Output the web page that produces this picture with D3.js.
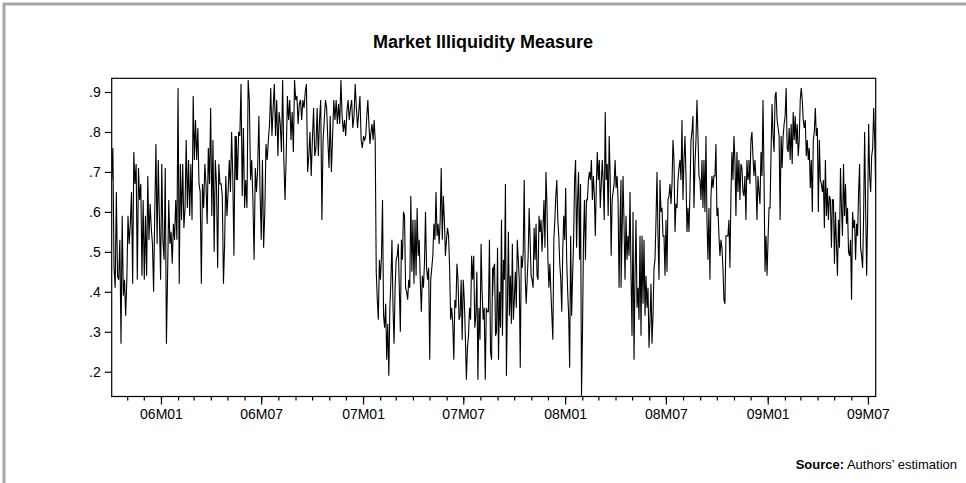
<!DOCTYPE html>
<html>
<head>
<meta charset="utf-8">
<script src="https://cdn.jsdelivr.net/npm/d3@7"></script>
<style>
  html, body { margin: 0; padding: 0; background: #fff; }
  svg { display: block; font-family: "Liberation Sans", Arial, sans-serif; }
</style>
</head>
<body>
<div id="chart"></div>
<script>
// daily illiquidity values
const seg1 = [0.68,0.76,0.46,0.41,0.65,0.44,0.43,0.53,0.27,0.59,0.39,0.43,0.34,0.43,0.59,0.52,0.57,0.65,0.42,0.75,0.67,0.72,0.43,0.71,0.63,0.67,0.44,0.63,0.43,0.59,0.44,0.69,0.53,0.62,0.56,0.52,0.40,0.60,0.77,0.52,0.73,0.58,0.43,0.72,0.53,0.48,0.71,0.27,0.44,0.63,0.52,0.55,0.47,0.57,0.53,0.63,0.53,0.91,0.42,0.72,0.58,0.72,0.56,0.61,0.78,0.61,0.73,0.59,0.72,0.58,0.89,0.73,0.83,0.73,0.81,0.67,0.65,0.42,0.67,0.61,0.72,0.67,0.57,0.76,0.67,0.86,0.59,0.78,0.50,0.73,0.67,0.46,0.72,0.67,0.67,0.64,0.42,0.52,0.69,0.59,0.65,0.73,0.65,0.80,0.69,0.49,0.79,0.68];
const seg2 = [0.79,0.68,0.80,0.79,0.92,0.64,0.81,0.61,0.68,0.61,0.93,0.88,0.68,0.73,0.63,0.48,0.71,0.65,0.71,0.84,0.65,0.53,0.73,0.51,0.60,0.77,0.73,0.78,0.82,0.91,0.79,0.86,0.92,0.79,0.88,0.74,0.85,0.82,0.75,0.93,0.73,0.63,0.74,0.89,0.83,0.88,0.78,0.85,0.75,0.93,0.88,0.89,0.82,0.87,0.88,0.83,0.88,0.86,0.90,0.92,0.70,0.74,0.80,0.69,0.78,0.86,0.74,0.76,0.86,0.74,0.83,0.88,0.58,0.78,0.83,0.88,0.86,0.78,0.71,0.84,0.70,0.79,0.88,0.83,0.88,0.82,0.87,0.82,0.93,0.84,0.80,0.83,0.79,0.85,0.88,0.83,0.86,0.88,0.81,0.84,0.92,0.86,0.81,0.85,0.89,0.78,0.76,0.79,0.78];
const seg3 = [0.78,0.79,0.84,0.88,0.82,0.77,0.80,0.82,0.78,0.83,0.78,0.45,0.38,0.33,0.48,0.43,0.49,0.63,0.34,0.31,0.37,0.23,0.32,0.19,0.36,0.43,0.53,0.36,0.27,0.41,0.48,0.49,0.52,0.41,0.30,0.53,0.48,0.60,0.59,0.41,0.40,0.38,0.43,0.41,0.64,0.45,0.58,0.42,0.58,0.44,0.61,0.49,0.53,0.43,0.35,0.44,0.41,0.47,0.60,0.46,0.43,0.46,0.23,0.43,0.46,0.49,0.57,0.53,0.65,0.54,0.57,0.52,0.58,0.71,0.53,0.64,0.58,0.49,0.53,0.56,0.54,0.46,0.33,0.36,0.32,0.23,0.38,0.36,0.47,0.43,0.33,0.34,0.43,0.28,0.43,0.38,0.29,0.18,0.26,0.29,0.36,0.33,0.49,0.43,0.49,0.31,0.34,0.45,0.18,0.36,0.28,0.52,0.40,0.33,0.36,0.18,0.36,0.35,0.35,0.53,0.25,0.23,0.46];
const seg4 = [0.39,0.46,0.47,0.29,0.30,0.51,0.23,0.40,0.31,0.58,0.29,0.48,0.43,0.67,0.19,0.37,0.55,0.34,0.44,0.32,0.52,0.33,0.38,0.45,0.36,0.53,0.48,0.43,0.21,0.49,0.46,0.50,0.68,0.44,0.37,0.43,0.49,0.61,0.53,0.44,0.43,0.41,0.56,0.48,0.57,0.44,0.43,0.59,0.55,0.58,0.50,0.56,0.63,0.51,0.70,0.62,0.48,0.41,0.47,0.40,0.34,0.28,0.53,0.58,0.64,0.68,0.58,0.54,0.47,0.43,0.35,0.50,0.59,0.53,0.66,0.48,0.40,0.34,0.21,0.54,0.34,0.44,0.53,0.68,0.73,0.51,0.63,0.70,0.48,0.67,0.14,0.30,0.53,0.63,0.48,0.63,0.63,0.68,0.70,0.68,0.73,0.63,0.69,0.64,0.54,0.67,0.75,0.68,0.73,0.61,0.67,0.73,0.67,0.58,0.85,0.68,0.72,0.59,0.79,0.69,0.49,0.63,0.65,0.67,0.73,0.66,0.69,0.63,0.41,0.58,0.68];
const seg5 = [0.41,0.54,0.69,0.57,0.43,0.59,0.48,0.54,0.49,0.65,0.44,0.29,0.60,0.23,0.44,0.58,0.36,0.41,0.33,0.54,0.29,0.54,0.37,0.53,0.34,0.44,0.36,0.41,0.26,0.33,0.42,0.27,0.34,0.46,0.48,0.58,0.70,0.54,0.43,0.68,0.60,0.61,0.54,0.54,0.44,0.58,0.45,0.63,0.64,0.67,0.62,0.67,0.78,0.73,0.55,0.62,0.61,0.68,0.71,0.73,0.68,0.83,0.63,0.73,0.79,0.69,0.55,0.61,0.55,0.65,0.78,0.80,0.84,0.61,0.72,0.78,0.88,0.79,0.69,0.68,0.63,0.73,0.61,0.73,0.60,0.79,0.58,0.48,0.61,0.43,0.64,0.69,0.66,0.69,0.69,0.77,0.59,0.61,0.54,0.49,0.53,0.51,0.46,0.38,0.37,0.54,0.54,0.54,0.58,0.46,0.64,0.75,0.68,0.79,0.73,0.59,0.75,0.65,0.73,0.63,0.72,0.71,0.65,0.64,0.69,0.58,0.73,0.68,0.70];
const seg6 = [0.73,0.67,0.78,0.80,0.74,0.69,0.73,0.68,0.58,0.69,0.65,0.62,0.75,0.69,0.88,0.69,0.45,0.54,0.44,0.53,0.61,0.61,0.75,0.87,0.79,0.75,0.89,0.90,0.83,0.81,0.79,0.58,0.79,0.71,0.79,0.82,0.84,0.91,0.76,0.75,0.81,0.73,0.82,0.72,0.85,0.78,0.84,0.77,0.82,0.74,0.78,0.88,0.91,0.88,0.83,0.81,0.83,0.74,0.78,0.73,0.76,0.66,0.73,0.60,0.78,0.80,0.86,0.79,0.81,0.60,0.78,0.68,0.67,0.65,0.68,0.56,0.73,0.59,0.66,0.58,0.64,0.63,0.51,0.63,0.63,0.47,0.60,0.52,0.44,0.58,0.51,0.71,0.61,0.54,0.72,0.59,0.67,0.57,0.61,0.50,0.49,0.53,0.38,0.60,0.56,0.58,0.48,0.57,0.54,0.65,0.72,0.51,0.49,0.46,0.59,0.80,0.61,0.44,0.59,0.82,0.69,0.65,0.74,0.76,0.86,0.78,0.65];

// period each segment covers (start dates, last entry = end of sample)
const segBounds = ["2005-10-04","2006-05-17","2007-01-04","2007-08-23","2008-04-11","2008-11-28","2009-07-15"];
const segments = [seg1, seg2, seg3, seg4, seg5, seg6];

const yTicks = [0.2, 0.3, 0.4, 0.5, 0.6, 0.7, 0.8, 0.9];
const title = "Market Illiquidity Measure";

const parse = d3.timeParse("%Y-%m-%d");
const bounds = segBounds.map(parse);

// spread each segment's observations evenly over its own period
let data = [];
segments.forEach((vals, i) => {
  const t = d3.scaleLinear().domain([0, vals.length - 1]).range([+bounds[i], +bounds[i + 1]]);
  vals.forEach((v, j) => data.push({ date: new Date(t(j)), value: v }));
});

const W = 966, H = 483;
const margin = { top: 78.3, left: 111.7, right: W - 875.7, bottom: H - 396.5 };

const svg = d3.select("#chart").append("svg")
  .attr("width", W)
  .attr("height", H);

// outer grey frame
svg.append("rect")
  .attr("x", 4).attr("y", 4)
  .attr("width", W + 10).attr("height", H + 10)
  .attr("fill", "none")
  .attr("stroke", "#a6a6a6")
  .attr("stroke-width", 3);

let xScale = d3.scaleTime()
  .domain([bounds[0], bounds[bounds.length - 1]])
  .range([margin.left, W - margin.right]);

let yScale = d3.scaleLinear()
  .domain([0.138, 0.9343])
  .range([H - margin.bottom, margin.top]);

svg.append("text")
  .attr("x", 483)
  .attr("y", 48)
  .attr("text-anchor", "middle")
  .attr("font-size", 18)
  .attr("font-weight", "bold")
  .text(title);

svg.append("clipPath").attr("id", "clip")
  .append("rect")
  .attr("x", margin.left).attr("y", margin.top)
  .attr("width", W - margin.left - margin.right)
  .attr("height", H - margin.top - margin.bottom);

let line = d3.line()
  .x(d => xScale(d.date))
  .y(d => yScale(d.value));

svg.append("path")
  .datum(data)
  .attr("clip-path", "url(#clip)")
  .attr("fill", "none")
  .attr("stroke", "#000")
  .attr("stroke-width", 1.1)
  .attr("d", line);

// plot frame
svg.append("rect")
  .attr("x", margin.left).attr("y", margin.top)
  .attr("width", W - margin.left - margin.right)
  .attr("height", H - margin.top - margin.bottom)
  .attr("fill", "none")
  .attr("stroke", "#000")
  .attr("stroke-width", 1.2);

let fmtY = d => d3.format(".1f")(d).replace(/^0/, "");

let yAxis = svg.append("g")
  .attr("transform", "translate(" + margin.left + ",0)")
  .call(d3.axisLeft(yScale).tickValues(yTicks).tickFormat(fmtY).tickSize(7).tickPadding(4));

// monthly minor ticks
let xMinor = svg.append("g")
  .attr("transform", "translate(0," + (H - margin.bottom) + ")")
  .call(d3.axisBottom(xScale).ticks(d3.timeMonth.every(1)).tickFormat("").tickSize(4));

// half-year major ticks with labels
let xMajor = svg.append("g")
  .attr("transform", "translate(0," + (H - margin.bottom) + ")")
  .call(d3.axisBottom(xScale).ticks(d3.timeMonth.every(6)).tickFormat(d3.timeFormat("%yM%m")).tickSize(8).tickPadding(5));

[yAxis, xMinor, xMajor].forEach(g => {
  g.select(".domain").remove();
  g.selectAll("line").attr("stroke", "#000").attr("stroke-width", 1.2);
  g.selectAll("text").attr("fill", "#000").attr("font-size", 14)
    .attr("font-family", "'Liberation Sans', Arial, sans-serif");
});

let src = svg.append("text")
  .attr("x", 957)
  .attr("y", 469)
  .attr("text-anchor", "end")
  .attr("font-size", 13);
src.append("tspan").attr("font-weight", "bold").text("Source:");
src.append("tspan").text(" Authors\u2019 estimation");
</script>
</body>
</html>
